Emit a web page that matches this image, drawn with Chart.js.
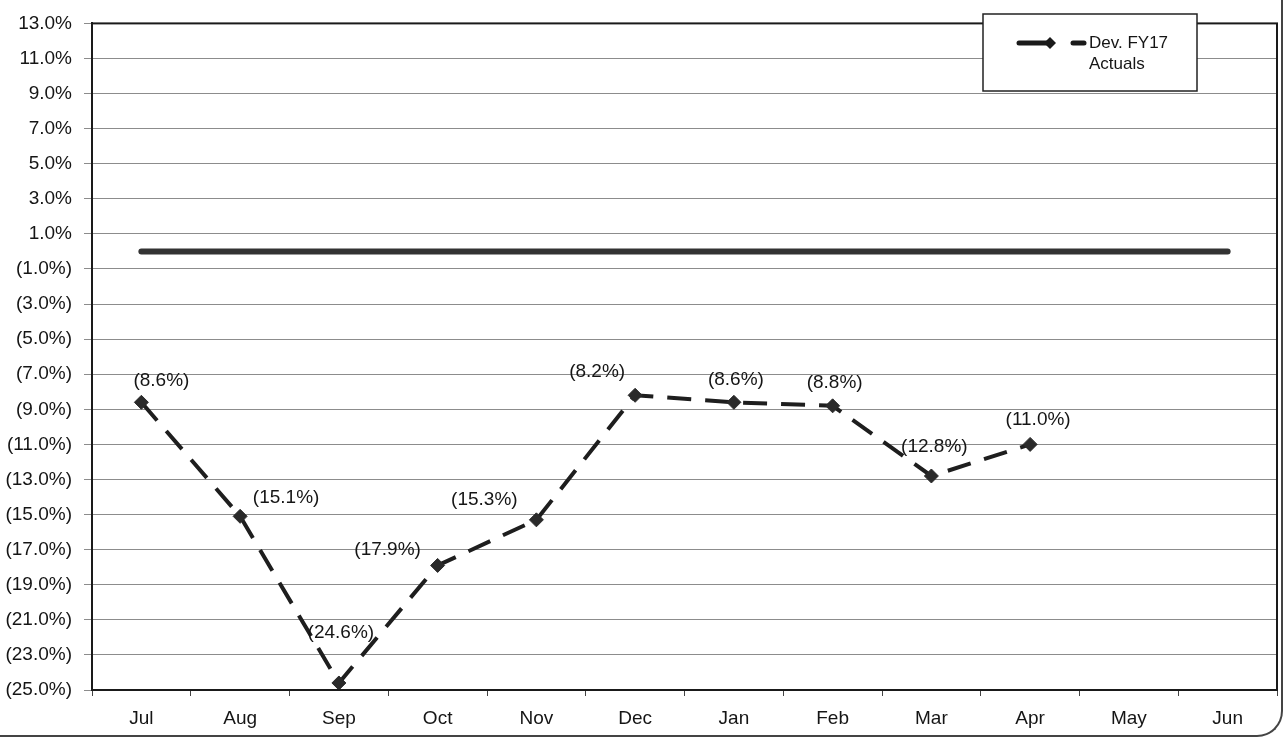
<!DOCTYPE html>
<html>
<head>
  <script src="https://cdn.jsdelivr.net/npm/chart.js@4.4.1/dist/chart.umd.min.js"></script>
  <style>
    * { margin: 0; padding: 0; box-sizing: border-box; }
    body { background: #fff; width: 1285px; height: 740px; overflow: hidden; }
    .wrap { position: relative; width: 1285px; height: 740px; }
    .frame {
      position: absolute; left: -10px; top: -10px; width: 1293px; height: 747px;
      border-right: 2px solid #444; border-bottom: 2px solid #444;
      border-bottom-right-radius: 26px; pointer-events: none;
    }
  </style>
</head>
<body>
  <div class="wrap">
    <canvas id="chart" width="1285" height="740"></canvas>
    <div class="frame"></div>
  </div>

  <script>
    const months = ['Jul', 'Aug', 'Sep', 'Oct', 'Nov', 'Dec', 'Jan', 'Feb', 'Mar', 'Apr', 'May', 'Jun'];
    const actuals = [-8.6, -15.1, -24.6, -17.9, -15.3, -8.2, -8.6, -8.8, -12.8, -11.0, null, null];
    const target = [0, 0, 0, 0, 0, 0, 0, 0, 0, 0, 0, 0];
    const yMin = -25, yMax = 13, yStep = 2;

    // label nudges relative to each point (pixels)
    const labelNudge = [[20, -22], [46, -19], [2, -50], [-50, -16], [-52, -20], [-38, -24], [2, -23], [2, -23], [3, -29], [8, -25]];

    const FONT = '"Liberation Sans", Arial, sans-serif';

    function fmt(v) {
      const s = Math.abs(v).toFixed(1) + '%';
      return v < 0 ? '(' + s + ')' : s;
    }

    const decor = {
      id: 'decor',
      afterDatasetsDraw(chart) {
        const ctx = chart.ctx;
        const meta = chart.getDatasetMeta(1);
        ctx.save();
        ctx.font = '19px ' + FONT;
        ctx.fillStyle = '#151515';
        ctx.textAlign = 'center';
        ctx.textBaseline = 'middle';
        meta.data.forEach((pt, i) => {
          const v = actuals[i];
          if (v === null || v === undefined) return;
          const n = labelNudge[i] || [0, -22];
          ctx.fillText(fmt(v), pt.x + n[0], pt.y + n[1]);
        });
        ctx.restore();
      },
      afterDraw(chart) {
        const ctx = chart.ctx;
        const a = chart.chartArea;
        ctx.save();
        // plot frame
        ctx.strokeStyle = '#1a1a1a';
        ctx.lineWidth = 2;
        ctx.strokeRect(a.left, a.top, a.right - a.left, a.bottom - a.top);

        // legend box
        const bx = 983, by = 14, bw = 214, bh = 77;
        ctx.fillStyle = '#fff';
        ctx.fillRect(bx, by, bw, bh);
        ctx.lineWidth = 1.5;
        ctx.strokeStyle = '#222';
        ctx.strokeRect(bx, by, bw, bh);

        const ly = 43;
        ctx.strokeStyle = '#1a1a1a';
        ctx.lineWidth = 5;
        ctx.lineCap = 'round';
        ctx.beginPath(); ctx.moveTo(1019, ly); ctx.lineTo(1050, ly); ctx.stroke();
        ctx.beginPath(); ctx.moveTo(1073, ly); ctx.lineTo(1084, ly); ctx.stroke();
        ctx.fillStyle = '#1a1a1a';
        ctx.beginPath();
        ctx.moveTo(1050, ly - 6); ctx.lineTo(1056, ly); ctx.lineTo(1050, ly + 6); ctx.lineTo(1044, ly);
        ctx.closePath(); ctx.fill();

        ctx.font = '17px ' + FONT;
        ctx.fillStyle = '#151515';
        ctx.textAlign = 'left';
        ctx.textBaseline = 'middle';
        ctx.fillText('Dev. FY17', 1089, 43);
        ctx.fillText('Actuals', 1089, 64);
        ctx.restore();
      }
    };

    new Chart(document.getElementById('chart'), {
      type: 'line',
      data: {
        labels: months,
        datasets: [
          {
            label: 'Target',
            data: target,
            borderColor: '#333',
            borderWidth: 6,
            borderCapStyle: 'round',
            pointRadius: 0,
            fill: false
          },
          {
            label: 'Dev. FY17 Actuals',
            data: actuals,
            borderColor: '#1e1e1e',
            backgroundColor: '#1e1e1e',
            borderWidth: 4,
            borderDash: [24, 14],
            pointStyle: 'rectRot',
            pointRadius: 7,
            pointBackgroundColor: '#2a2a2a',
            pointBorderColor: '#2a2a2a',
            pointBorderWidth: 1,
            spanGaps: false,
            fill: false,
            tension: 0
          }
        ]
      },
      options: {
        responsive: false,
        animation: false,
        layout: { padding: { left: 0, top: 22, right: 5, bottom: 0 } },
        plugins: {
          legend: { display: false },
          tooltip: { enabled: false }
        },
        scales: {
          x: {
            offset: true,
            grid: {
              offset: true,
              drawOnChartArea: false,
              drawTicks: true,
              tickLength: 6,
              color: '#444'
            },
            border: { display: true, color: '#1a1a1a', width: 2 },
            ticks: {
              padding: 11,
              color: '#151515',
              font: { family: FONT, size: 19 }
            },
            afterFit(scale) { scale.height = 50; }
          },
          y: {
            min: yMin,
            max: yMax,
            grid: {
              color: '#8c8c8c',
              lineWidth: 1,
              tickLength: 8
            },
            border: { display: true, color: '#1a1a1a', width: 2 },
            ticks: {
              stepSize: yStep,
              padding: 12,
              color: '#151515',
              font: { family: FONT, size: 19 },
              callback: v => fmt(v)
            },
            afterFit(scale) { scale.width = 92; }
          }
        }
      },
      plugins: [decor]
    });
  </script>
</body>
</html>
